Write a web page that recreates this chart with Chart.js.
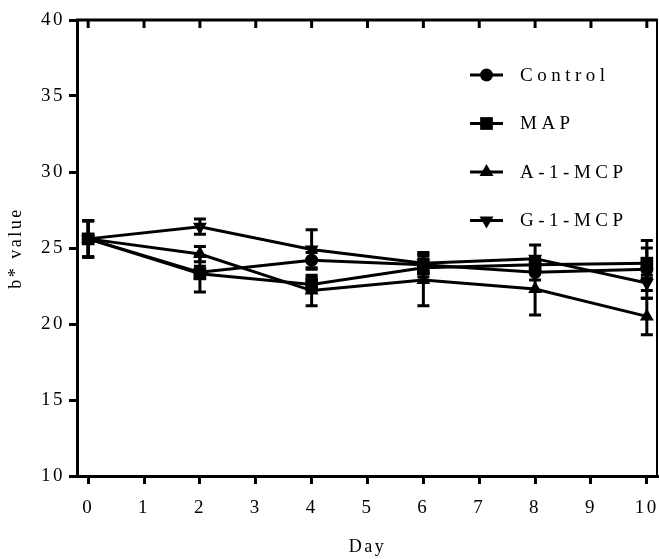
<!DOCTYPE html>
<html><head><meta charset="utf-8">
<script src="https://cdn.jsdelivr.net/npm/chart.js@4.4.0/dist/chart.umd.min.js"></script>
<style>html,body{margin:0;padding:0;background:#fff;overflow:hidden}canvas{display:block}</style>
</head><body><canvas id="c" width="659" height="559"></canvas>
<script>
const days = [0, 2, 4, 6, 8, 10];
const xTicks = [0, 1, 2, 3, 4, 5, 6, 7, 8, 9, 10];
const yTicks = [10, 15, 20, 25, 30, 35, 40];
const seriesNames = ['Control', 'MAP', 'A-1-MCP', 'G-1-MCP'];
const control = [25.6, 23.4, 24.2, 23.9, 23.4, 23.6];
const map = [25.6, 23.3, 22.6, 23.7, 23.9, 24.0];
const a1mcp = [25.6, 24.6, 22.2, 22.9, 22.3, 20.5];
const g1mcp = [25.6, 26.4, 24.9, 24.0, 24.3, 22.7];
const controlErr = [1.2, 0.4, 0.5, 0.6, 0.5, 1.9];
const mapErr = [1.2, 1.2, 0.5, 0.6, 0.5, 1.0];
const a1mcpErr = [1.2, 0.5, 1.0, 1.7, 1.7, 1.2];
const g1mcpErr = [1.2, 0.5, 1.3, 0.7, 0.9, 0.5];

const FONT = 'Liberation Serif';
const values = [control, map, a1mcp, g1mcp];
const errs = [controlErr, mapErr, a1mcpErr, g1mcpErr];
const styles = [
  {pointStyle: 'circle', radius: 6.5, rotation: 0},
  {pointStyle: 'rect', radius: 9, rotation: 0},
  {pointStyle: 'triangle', radius: 8, rotation: 0},
  {pointStyle: 'triangle', radius: 8, rotation: 180}
];

const datasets = seriesNames.map((name, i) => ({
  label: name,
  data: days.map((d, j) => ({x: d, y: values[i][j]})),
  errors: errs[i],
  borderColor: '#000',
  backgroundColor: '#000',
  borderWidth: 3,
  pointStyle: styles[i].pointStyle,
  pointRadius: styles[i].radius,
  pointRotation: styles[i].rotation,
  pointBackgroundColor: '#000',
  pointBorderColor: '#000',
  pointBorderWidth: 0,
  tension: 0,
  fill: false,
  clip: false
}));

const spacingPlugin = {
  id: 'spacing',
  beforeLayout(chart) { chart.ctx.letterSpacing = '2.5px'; },
  beforeDraw(chart) { chart.ctx.letterSpacing = '2.5px'; }
};

const errorBars = {
  id: 'errorBars',
  afterDatasetsDraw(chart) {
    const ctx = chart.ctx, xs = chart.scales.x, ys = chart.scales.y;
    ctx.save();
    ctx.strokeStyle = '#000';
    ctx.lineWidth = 3;
    chart.data.datasets.forEach(ds => {
      ds.data.forEach((p, j) => {
        const e = ds.errors[j];
        const px = xs.getPixelForValue(p.x);
        const top = ys.getPixelForValue(p.y + e);
        const bot = ys.getPixelForValue(p.y - e);
        ctx.beginPath();
        ctx.moveTo(px, top); ctx.lineTo(px, bot);
        ctx.moveTo(px - 6, top); ctx.lineTo(px + 6, top);
        ctx.moveTo(px - 6, bot); ctx.lineTo(px + 6, bot);
        ctx.stroke();
      });
    });
    ctx.restore();
  }
};

function drawMarker(ctx, style, x, y) {
  const r = style.radius;
  ctx.beginPath();
  if (style.pointStyle === 'circle') {
    ctx.arc(x, y, r, 0, Math.PI * 2);
  } else if (style.pointStyle === 'rect') {
    const s = r * Math.SQRT1_2;
    ctx.rect(x - s, y - s, 2 * s, 2 * s);
  } else {
    const rad = style.rotation * Math.PI / 180;
    for (let k = 0; k < 3; k++) {
      const a = rad - Math.PI / 2 + k * 2 * Math.PI / 3;
      const px = x + Math.cos(a) * r, py = y + Math.sin(a) * r;
      if (k === 0) ctx.moveTo(px, py); else ctx.lineTo(px, py);
    }
    ctx.closePath();
  }
  ctx.fill();
}

const legendPlugin = {
  id: 'customLegend',
  afterDraw(chart) {
    const ctx = chart.ctx, a = chart.chartArea;
    ctx.save();
    ctx.fillStyle = '#000';
    ctx.strokeStyle = '#000';
    ctx.lineWidth = 3;
    ctx.font = '19px "' + FONT + '"';
    ctx.letterSpacing = '4.5px';
    ctx.textBaseline = 'middle';
    ctx.textAlign = 'left';
    const x0 = a.left + 393, x1 = a.left + 426;
    seriesNames.forEach((name, i) => {
      const y = a.top + 55 + i * 48.5;
      ctx.beginPath(); ctx.moveTo(x0, y); ctx.lineTo(x1, y); ctx.stroke();
      drawMarker(ctx, styles[i], (x0 + x1) / 2, y);
      ctx.fillText(name, a.left + 443, y + 1);
    });
    ctx.restore();
  }
};

const framePlugin = {
  id: 'frame',
  afterDraw(chart) {
    const ctx = chart.ctx, a = chart.chartArea, xs = chart.scales.x;
    ctx.save();
    ctx.strokeStyle = '#000';
    ctx.lineWidth = 3;
    ctx.beginPath();
    ctx.moveTo(a.left - 1, a.top); ctx.lineTo(a.right, a.top);
    xTicks.forEach(v => {
      const px = xs.getPixelForValue(v);
      ctx.moveTo(px, a.top); ctx.lineTo(px, a.top + 8);
    });
    ctx.stroke();
    ctx.lineWidth = 2;
    ctx.beginPath();
    ctx.moveTo(a.right - 1, a.top); ctx.lineTo(a.right - 1, a.bottom);
    ctx.stroke();
    ctx.restore();
  }
};

const tickFont = {family: FONT, size: 19};

new Chart(document.getElementById('c'), {
  type: 'line',
  data: {datasets},
  plugins: [spacingPlugin, errorBars, legendPlugin, framePlugin],
  options: {
    responsive: false,
    animation: false,
    layout: {autoPadding: false, padding: {top: 20, right: 1, left: 0, bottom: 0}},
    plugins: {legend: {display: false}, tooltip: {enabled: false}},
    scales: {
      x: {
        type: 'linear', min: -0.2, max: 10.2,
        afterBuildTicks: s => { s.ticks = xTicks.map(v => ({value: v})); },
        afterFit: s => { s.height = 83; s.paddingLeft = 0; s.paddingRight = 0; },
        grid: {drawOnChartArea: false, tickLength: 8, tickWidth: 3, color: '#000'},
        border: {width: 3, color: '#000'},
        ticks: {font: tickFont, color: '#000', padding: 13, maxRotation: 0},
        title: {display: true, text: 'Day', font: {family: FONT, size: 18}, color: '#000', padding: {top: 0, bottom: 1}}
      },
      y: {
        min: 10, max: 40,
        afterBuildTicks: s => { s.ticks = yTicks.map(v => ({value: v})); },
        afterFit: s => { s.width = 77; },
        grid: {drawOnChartArea: false, tickLength: 8, tickWidth: 3, color: '#000'},
        border: {width: 3, color: '#000'},
        ticks: {font: tickFont, color: '#000', padding: 4},
        title: {display: true, text: 'b* value', font: {family: FONT, size: 18}, color: '#000', padding: {top: 5, bottom: 0}}
      }
    }
  }
});
</script></body></html>
